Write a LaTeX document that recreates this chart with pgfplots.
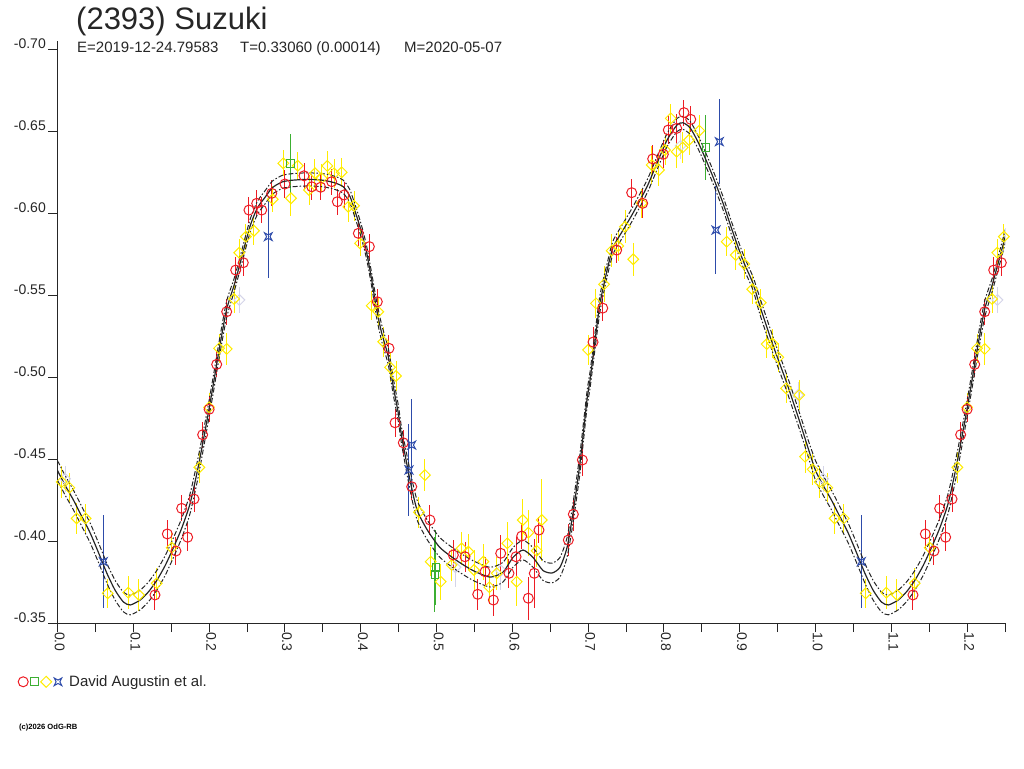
\documentclass[border=0pt]{standalone}
\usepackage{fontspec}
\setmainfont{Liberation Sans}
\usepackage{pgfplots}
\pgfplotsset{compat=1.18}
\usepackage{pgfplotstable}
\definecolor{cred}{RGB}{237,28,36}
\definecolor{cyel}{RGB}{255,236,0}
\definecolor{cgrn}{RGB}{60,175,50}
\definecolor{cblu}{RGB}{45,75,170}
\definecolor{cgry}{RGB}{212,212,232}
\pgfdeclareplotmark{cstar}{%
  \pgfpathmoveto{\pgfqpoint{\pgfplotmarksize}{\pgfplotmarksize}}%
  \pgfpathlineto{\pgfqpoint{0pt}{0.45\pgfplotmarksize}}%
  \pgfpathlineto{\pgfqpoint{-\pgfplotmarksize}{\pgfplotmarksize}}%
  \pgfpathlineto{\pgfqpoint{-0.45\pgfplotmarksize}{0pt}}%
  \pgfpathlineto{\pgfqpoint{-\pgfplotmarksize}{-\pgfplotmarksize}}%
  \pgfpathlineto{\pgfqpoint{0pt}{-0.45\pgfplotmarksize}}%
  \pgfpathlineto{\pgfqpoint{\pgfplotmarksize}{-\pgfplotmarksize}}%
  \pgfpathlineto{\pgfqpoint{0.45\pgfplotmarksize}{0pt}}%
  \pgfpathclose\pgfusepathqstroke}

\pgfplotstableread{
x y e
0.1286 -0.3671 0.009
0.1449 -0.4043 0.0085
0.1563 -0.3939 0.0085
0.1638 -0.4199 0.008
0.1717 -0.4023 0.0085
0.1801 -0.4256 0.008
0.1915 -0.4648 0.008
0.2000 -0.4803 0.008
0.2100 -0.5077 0.008
0.2232 -0.5398 0.008
0.2351 -0.5652 0.008
0.2451 -0.5697 0.008
0.2526 -0.6018 0.008
0.2628 -0.6059 0.008
0.2694 -0.6018 0.008
0.2826 -0.6120 0.008
0.3001 -0.6177 0.0085
0.3252 -0.6227 0.008
0.3354 -0.6160 0.008
0.3472 -0.6157 0.008
0.3617 -0.6191 0.008
0.3692 -0.6069 0.008
0.3780 -0.6110 0.008
0.3969 -0.5876 0.008
0.4114 -0.5795 0.008
0.4219 -0.5459 0.008
0.4373 -0.5175 0.008
0.4453 -0.4721 0.0085
0.4562 -0.4599 0.008
0.4673 -0.4331 0.008
0.4914 -0.4128 0.009
0.5222 -0.3915 0.009
0.5376 -0.3904 0.009
0.5544 -0.3675 0.0095
0.5640 -0.3813 0.009
0.5750 -0.3640 0.0095
0.5847 -0.3925 0.011
0.5956 -0.3803 0.009
0.6049 -0.3904 0.012
0.6124 -0.4030 0.008
0.6211 -0.3651 0.013
0.6290 -0.3803 0.021
0.6352 -0.4067 0.008
0.6739 -0.4006 0.010
0.6805 -0.4163 0.010
0.6924 -0.4494 0.010
0.7065 -0.5213 0.009
0.7193 -0.5420 0.008
0.7377 -0.5774 0.008
0.7575 -0.6124 0.0085
0.7720 -0.6059 0.009
0.7852 -0.6330 0.0085
0.7992 -0.6358 0.0085
0.8058 -0.6506 0.0085
0.8169 -0.6516 0.009
0.8265 -0.6612 0.008
0.8354 -0.6571 0.008
1.1286 -0.3671 0.009
1.1449 -0.4043 0.0085
1.1563 -0.3939 0.0085
1.1638 -0.4199 0.008
1.1717 -0.4023 0.0085
1.1801 -0.4256 0.008
1.1915 -0.4648 0.008
1.2000 -0.4803 0.008
1.2100 -0.5077 0.008
1.2232 -0.5398 0.008
1.2351 -0.5652 0.008
1.2451 -0.5697 0.008
}\tred

\pgfplotstableread{
x y e
0.0055 -0.4360 0.0095
0.0156 -0.4325 0.009
0.0253 -0.4138 0.0095
0.0372 -0.4138 0.009
0.0662 -0.3681 0.009
0.0934 -0.3685 0.010
0.1075 -0.3671 0.0095
0.1309 -0.3742 0.0095
0.1506 -0.3959 0.009
0.1871 -0.4449 0.0095
0.1999 -0.4815 0.009
0.2131 -0.5175 0.009
0.2232 -0.5171 0.0095
0.2329 -0.5476 0.0085
0.2398 -0.5758 0.0085
0.2485 -0.5856 0.008
0.2592 -0.5892 0.0085
0.2839 -0.6084 0.008
0.2979 -0.6303 0.008
0.3080 -0.6090 0.011
0.3169 -0.6288 0.0085
0.3318 -0.6140 0.009
0.3397 -0.6242 0.009
0.3485 -0.6212 0.0085
0.3560 -0.6287 0.009
0.3648 -0.6242 0.009
0.3749 -0.6248 0.009
0.3837 -0.6038 0.009
0.3912 -0.6044 0.009
0.3991 -0.5815 0.008
0.4145 -0.5435 0.009
0.4232 -0.5398 0.009
0.4298 -0.5215 0.009
0.4387 -0.5059 0.009
0.4466 -0.5006 0.009
0.4769 -0.4175 0.0095
0.4848 -0.4402 0.010
0.4923 -0.3874 0.009
0.5055 -0.3752 0.011
0.5200 -0.3854 0.010
0.5332 -0.3955 0.010
0.5420 -0.3935 0.011
0.5495 -0.3823 0.012
0.5618 -0.3874 0.011
0.5697 -0.3718 0.010
0.5794 -0.3803 0.010
0.5934 -0.3986 0.013
0.6058 -0.3752 0.015
0.6137 -0.4128 0.013
0.6211 -0.4051 0.014
0.6322 -0.3940 0.010
0.6388 -0.4128 0.025
0.6999 -0.5165 0.009
0.7104 -0.5449 0.009
0.7210 -0.5565 0.011
0.7311 -0.5770 0.010
0.7398 -0.5799 0.009
0.7487 -0.5916 0.010
0.7596 -0.5718 0.010
0.7707 -0.6059 0.009
0.7839 -0.6293 0.0115
0.7935 -0.6262 0.010
0.8015 -0.6384 0.009
0.8090 -0.6577 0.009
0.8169 -0.6374 0.010
0.8248 -0.6400 0.0095
0.8331 -0.6445 0.009
0.8467 -0.6502 0.0095
0.8828 -0.5825 0.009
0.8947 -0.5744 0.009
0.9061 -0.5689 0.009
0.9166 -0.5535 0.009
0.9277 -0.5453 0.0085
0.9356 -0.5201 0.0085
0.9430 -0.5205 0.009
0.9509 -0.5120 0.009
0.9611 -0.4931 0.009
0.9786 -0.4890 0.009
0.9862 -0.4514 0.010
0.9963 -0.4437 0.0095
1.0055 -0.4360 0.0095
1.0156 -0.4325 0.009
1.0253 -0.4138 0.0095
1.0372 -0.4138 0.009
1.0662 -0.3681 0.009
1.0934 -0.3685 0.010
1.1075 -0.3671 0.0095
1.1309 -0.3742 0.0095
1.1506 -0.3959 0.009
1.1871 -0.4449 0.0095
1.1999 -0.4815 0.009
1.2131 -0.5175 0.009
1.2232 -0.5171 0.0095
1.2329 -0.5476 0.0085
1.2398 -0.5758 0.0085
1.2485 -0.5856 0.008
}\tyel

\pgfplotstableread{
x y e
0.3077 -0.6303 0.018
0.4980 -0.3797 0.023
0.4993 -0.3840 0.023
0.8555 -0.6400 0.020
}\tgrn

\pgfplotstableread{
x y e
0.0604 -0.3874 0.0285
0.2781 -0.5856 0.025
0.4637 -0.4433 0.028
0.4673 -0.4585 0.028
0.8687 -0.5896 0.027
0.8731 -0.6435 0.026
1.0604 -0.3874 0.0285
}\tblu

\pgfplotstableread{
x y e
0.0100 -0.4380 0.008
0.2400 -0.5470 0.008
0.5250 -0.3840 0.012
0.5850 -0.3820 0.012
0.8220 -0.6410 0.008
0.9770 -0.4890 0.008
1.0100 -0.4380 0.008
1.2400 -0.5470 0.008
}\tgry

\pgfplotstableread{
x mid up lo
0.000 -0.443 -0.449 -0.437
0.010 -0.434 -0.440 -0.428
0.021 -0.425 -0.431 -0.419
0.032 -0.415 -0.421 -0.409
0.043 -0.405 -0.411 -0.399
0.054 -0.393 -0.399 -0.387
0.065 -0.3805 -0.3865 -0.3745
0.076 -0.370 -0.376 -0.364
0.087 -0.3628 -0.3688 -0.3568
0.096 -0.3610 -0.367 -0.355
0.109 -0.3640 -0.370 -0.358
0.120 -0.369 -0.375 -0.363
0.131 -0.376 -0.382 -0.370
0.142 -0.385 -0.391 -0.379
0.153 -0.396 -0.402 -0.390
0.164 -0.408 -0.414 -0.402
0.175 -0.423 -0.429 -0.417
0.186 -0.446 -0.452 -0.440
0.197 -0.473 -0.478 -0.468
0.205 -0.494 -0.499 -0.489
0.213 -0.516 -0.521 -0.511
0.223 -0.541 -0.546 -0.536
0.233 -0.556 -0.560 -0.552
0.241 -0.5695 -0.5735 -0.5655
0.2537 -0.5915 -0.5955 -0.5875
0.2636 -0.603 -0.607 -0.599
0.2737 -0.6095 -0.6135 -0.6055
0.2836 -0.6155 -0.6195 -0.6115
0.2968 -0.619 -0.623 -0.615
0.310 -0.620 -0.624 -0.616
0.330 -0.6205 -0.6245 -0.6165
0.350 -0.620 -0.624 -0.616
0.365 -0.6185 -0.6225 -0.6145
0.377 -0.616 -0.620 -0.612
0.3859 -0.610 -0.614 -0.606
0.3947 -0.598 -0.602 -0.594
0.4013 -0.588 -0.592 -0.584
0.4079 -0.5757 -0.5797 -0.5717
0.4145 -0.5592 -0.5632 -0.5552
0.4211 -0.5409 -0.5459 -0.5359
0.4277 -0.5268 -0.5318 -0.5218
0.4364 -0.5124 -0.5174 -0.5074
0.4430 -0.4941 -0.4991 -0.4891
0.4496 -0.4779 -0.4829 -0.4729
0.4541 -0.4636 -0.4686 -0.4586
0.4650 -0.4372 -0.4432 -0.4312
0.4743 -0.4190 -0.4250 -0.4130
0.4875 -0.4070 -0.4130 -0.4010
0.5046 -0.3960 -0.4020 -0.3900
0.5270 -0.3880 -0.3940 -0.3820
0.5481 -0.3820 -0.3880 -0.3760
0.5706 -0.3780 -0.3840 -0.3720
0.5877 -0.3810 -0.3870 -0.3750
0.6009 -0.3900 -0.3960 -0.3840
0.6141 -0.3945 -0.4005 -0.3885
0.6273 -0.3900 -0.3960 -0.3840
0.6405 -0.3820 -0.3880 -0.3760
0.6524 -0.3805 -0.3865 -0.3745
0.6629 -0.3840 -0.3900 -0.3780
0.6722 -0.3960 -0.4020 -0.3900
0.6801 -0.4170 -0.4230 -0.4110
0.6893 -0.4476 -0.4536 -0.4416
0.6985 -0.4860 -0.4910 -0.4810
0.7025 -0.4980 -0.5030 -0.4930
0.7091 -0.5220 -0.5270 -0.5170
0.7157 -0.5450 -0.5500 -0.5400
0.7250 -0.5650 -0.5690 -0.5610
0.7329 -0.5790 -0.5830 -0.5750
0.7461 -0.5896 -0.5936 -0.5856
0.7593 -0.6000 -0.6040 -0.5960
0.7777 -0.6160 -0.6200 -0.6120
0.7910 -0.6305 -0.6345 -0.6265
0.8042 -0.6445 -0.6485 -0.6405
0.8173 -0.6537 -0.6577 -0.6497
0.8252 -0.6550 -0.6590 -0.6510
0.8345 -0.6520 -0.6560 -0.6480
0.8437 -0.6445 -0.6485 -0.6405
0.8516 -0.6366 -0.6406 -0.6326
0.8648 -0.6220 -0.6260 -0.6180
0.8780 -0.6060 -0.6100 -0.6020
0.8912 -0.5880 -0.5920 -0.5840
0.9044 -0.5710 -0.5750 -0.5670
0.9176 -0.5570 -0.5610 -0.5530
0.9268 -0.5430 -0.5480 -0.5380
0.9446 -0.5185 -0.5235 -0.5135
0.9622 -0.4962 -0.5012 -0.4912
0.9798 -0.4718 -0.4768 -0.4668
0.9900 -0.4570 -0.4620 -0.4520
1.0000 -0.4430 -0.4490 -0.4370
1.010 -0.434 -0.440 -0.428
1.021 -0.425 -0.431 -0.419
1.032 -0.415 -0.421 -0.409
1.043 -0.405 -0.411 -0.399
1.054 -0.393 -0.399 -0.387
1.065 -0.3805 -0.3865 -0.3745
1.076 -0.370 -0.376 -0.364
1.087 -0.3628 -0.3688 -0.3568
1.096 -0.3610 -0.367 -0.355
1.109 -0.3640 -0.370 -0.358
1.120 -0.369 -0.375 -0.363
1.131 -0.376 -0.382 -0.370
1.142 -0.385 -0.391 -0.379
1.153 -0.396 -0.402 -0.390
1.164 -0.408 -0.414 -0.402
1.175 -0.423 -0.429 -0.417
1.186 -0.446 -0.452 -0.440
1.197 -0.473 -0.478 -0.468
1.205 -0.494 -0.499 -0.489
1.213 -0.516 -0.521 -0.511
1.223 -0.541 -0.546 -0.536
1.233 -0.556 -0.560 -0.552
1.241 -0.5695 -0.5735 -0.5655
1.2537 -0.5915 -0.5955 -0.5875
}\tfit

\begin{document}
\begin{tikzpicture}
\useasboundingbox (0pt,0pt) rectangle (1024pt,768pt);
\node[anchor=base west, inner sep=0pt, font=\fontsize{31}{34}\selectfont, text=black!85] at (76pt,738pt) {(2393) Suzuki};
\node[anchor=base west, inner sep=0pt, font=\fontsize{15}{17}\selectfont, text=black!85] at (77pt,715pt) {E=2019-12-24.79583};
\node[anchor=base west, inner sep=0pt, font=\fontsize{15}{17}\selectfont, text=black!85] at (240pt,715pt) {T=0.33060 (0.00014)};
\node[anchor=base west, inner sep=0pt, font=\fontsize{15}{17}\selectfont, text=black!85] at (404pt,715pt) {M=2020-05-07};
\node[anchor=base west, inner sep=0pt, font=\fontsize{7.6}{9}\selectfont\bfseries] at (19pt,39pt) {(c)2026 OdG-RB};
\begin{axis}[
  at={(57.5pt,145pt)}, anchor=south west,
  scale only axis, width=947.5pt, height=582pt,
  xmin=0, xmax=1.25, ymin=-0.70488, ymax=-0.35,
  y dir=reverse,
  axis x line=bottom, axis y line=left,
  axis line style={-, line width=1pt, black!85},
  tick align=outside,
  major tick length=9pt, minor tick length=9pt,
  tick style={line width=1pt, black!85},
  xtick={0,0.1,0.2,0.3,0.4,0.5,0.6,0.7,0.8,0.9,1.0,1.1,1.2},
  xticklabels={0.0,0.1,0.2,0.3,0.4,0.5,0.6,0.7,0.8,0.9,1.0,1.1,1.2},
  minor xtick={0.05,0.15,0.25,0.35,0.45,0.55,0.65,0.75,0.85,0.95,1.05,1.15,1.25},
  ytick={-0.70,-0.65,-0.60,-0.55,-0.50,-0.45,-0.40,-0.35},
  yticklabels={-0.70,-0.65,-0.60,-0.55,-0.50,-0.45,-0.40,-0.35},
  tick label style={font=\fontsize{14}{16}\selectfont, text=black!85},
  xticklabel style={rotate=-90, anchor=south west, inner sep=0pt, yshift=-3pt},
  yticklabel style={anchor=south east, inner sep=0pt, xshift=-2.5pt},
  legend style={at={(axis description cs:-0.0422,-0.101)}, anchor=west, draw=none, fill=none,
     font=\fontsize{15}{17}\selectfont, inner sep=0pt, text=black!85},
  legend cell align=left,
  legend image code/.code={%
    \draw[cred, line width=1pt] (5pt,0pt) circle (5pt);
    \draw[cgrn, line width=1pt] (12.5pt,-3.8pt) rectangle (20pt,3.8pt);
    \draw[cyel, line width=1pt] (22.5pt,0pt) -- (28pt,5.5pt) -- (33.5pt,0pt) -- (28pt,-5.5pt) -- cycle;
    \draw[cblu, line width=1pt] (36pt,3.8pt) -- (39.8pt,1.7pt) -- (43.6pt,3.8pt) -- (41.7pt,0pt) -- (43.6pt,-3.8pt) -- (39.8pt,-1.7pt) -- (36pt,-3.8pt) -- (37.9pt,0pt) -- cycle;
    \path (48.5pt,0pt);
  },
]
\addplot[only marks, cgry, line width=1pt, mark=square, mark size=3.8pt, mark options={rotate=45},
  error bars/.cd, y dir=both, y explicit, error mark=none, error bar style={line width=1pt}]
  table[x=x, y=y, y error=e] {\tgry};
\addplot[only marks, cyel, line width=1pt, mark=square, mark size=3.8pt, mark options={rotate=45},
  error bars/.cd, y dir=both, y explicit, error mark=none, error bar style={line width=1pt}]
  table[x=x, y=y, y error=e] {\tyel};
\addplot[only marks, cred, line width=1pt, mark=o, mark size=5pt,
  error bars/.cd, y dir=both, y explicit, error mark=none, error bar style={line width=1pt}]
  table[x=x, y=y, y error=e] {\tred};
\addplot[only marks, cgrn, line width=1pt, mark=square, mark size=3.8pt,
  error bars/.cd, y dir=both, y explicit, error mark=none, error bar style={line width=1pt}]
  table[x=x, y=y, y error=e] {\tgrn};
\addplot[only marks, cblu, line width=1pt, mark=cstar, mark size=3.8pt,
  error bars/.cd, y dir=both, y explicit, error mark=none, error bar style={line width=1pt}]
  table[x=x, y=y, y error=e] {\tblu};
\addlegendentry{David Augustin et al.}
\addplot[black!85, line width=1.2pt, smooth, tension=0.4, forget plot] table[x=x, y=mid] {\tfit};
\addplot[black!85, line width=1pt, smooth, tension=0.4, dash pattern=on 5pt off 2pt on 1.5pt off 2pt, forget plot] table[x=x, y=up] {\tfit};
\addplot[black!85, line width=1pt, smooth, tension=0.4, dash pattern=on 5pt off 2pt on 1.5pt off 2pt, forget plot] table[x=x, y=lo] {\tfit};
\end{axis}
\end{tikzpicture}
\end{document}
